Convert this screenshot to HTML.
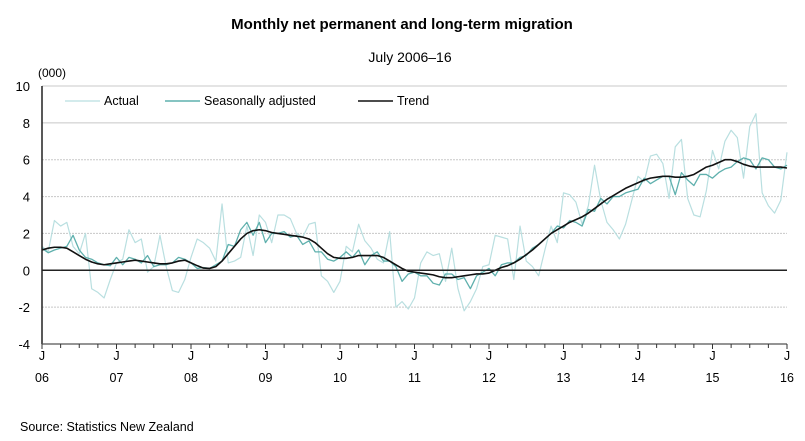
<!DOCTYPE html>
<html><head><meta charset="utf-8"><style>
body{margin:0;background:#fff;}
svg{display:block;font-family:"Liberation Sans",Arial,sans-serif;}
</style></head><body>
<svg id="chart" width="805" height="441" viewBox="0 0 805 441">
<text x="402" y="29" text-anchor="middle" font-size="15" font-weight="bold">Monthly net permanent and long-term migration</text>
<text x="410" y="62" text-anchor="middle" font-size="14">July 2006–16</text>
<text x="38" y="77" font-size="12">(000)</text>
<g id="grid"></g><g id="series"></g><g id="axes"></g>
<g>
<line x1="65" y1="101" x2="100" y2="101" stroke="#b9dfe0" stroke-width="1.2"/>
<text x="104" y="105" font-size="12.5">Actual</text>
<line x1="165" y1="101" x2="200" y2="101" stroke="#5fb0ad" stroke-width="1.4"/>
<text x="204" y="105" font-size="12.5">Seasonally adjusted</text>
<line x1="358" y1="101" x2="393" y2="101" stroke="#111" stroke-width="1.6"/>
<text x="397" y="105" font-size="12.5">Trend</text>
</g>
<text x="20" y="431" font-size="12.5">Source: Statistics New Zealand</text>
</svg>
<script>
const yTicks=[10,8,6,4,2,0,-2,-4];
const yearLabels=['06','07','08','09','10','11','12','13','14','15','16'];
const actual=[1.3,1.0,2.7,2.4,2.6,1.3,0.9,2.0,-1.0,-1.2,-1.5,-0.5,0.4,0.6,2.2,1.5,1.7,-0.1,0.2,1.9,0.2,-1.1,-1.2,-0.5,0.7,1.7,1.5,1.2,0.5,3.6,0.4,0.5,0.7,2.4,0.8,3.0,2.6,1.5,3.0,3.0,2.8,2.0,1.8,2.5,2.6,-0.3,-0.6,-1.2,-0.6,1.3,1.0,2.5,1.6,1.2,0.6,0.4,2.1,-2.0,-1.7,-2.1,-1.5,0.4,1.0,0.8,0.9,-0.6,1.2,-1.0,-2.2,-1.7,-1.0,0.2,0.3,1.9,1.8,1.7,-0.5,2.4,0.5,0.2,-0.3,1.1,2.4,1.5,4.2,4.1,3.7,2.5,3.5,5.7,3.8,2.6,2.2,1.7,2.5,3.8,5.1,4.8,6.2,6.3,5.8,3.9,6.7,7.1,3.9,3.0,2.9,4.3,6.5,5.5,7.0,7.6,7.2,5.0,7.8,8.5,4.2,3.5,3.1,3.8,6.4];
const seasAdj=[1.2,0.95,1.1,1.2,1.3,1.9,1.1,0.7,0.6,0.4,0.3,0.25,0.7,0.3,0.7,0.6,0.4,0.8,0.2,0.3,0.3,0.4,0.7,0.6,0.4,0.1,0.15,0.1,0.3,0.5,1.4,1.3,2.2,2.6,1.9,2.6,1.5,2.0,2.0,2.1,1.8,1.9,1.4,1.6,1.0,1.0,0.6,0.5,0.7,1.0,0.7,1.1,0.3,0.8,1.0,0.5,0.5,0.2,-0.6,-0.2,-0.1,-0.3,-0.3,-0.7,-0.8,-0.2,-0.2,-0.5,-0.4,-1.0,-0.3,-0.1,0.1,-0.3,0.3,0.4,0.4,0.7,0.8,1.2,1.4,1.7,2.0,2.4,2.3,2.7,2.6,2.4,3.3,3.2,3.9,3.6,4.0,4.0,4.2,4.3,4.4,5.0,4.7,4.9,5.1,5.1,4.1,5.3,4.9,4.6,5.2,5.2,5.0,5.3,5.5,5.6,5.9,6.1,6.0,5.5,6.1,6.0,5.6,5.5,5.7];
const trend=[1.1,1.2,1.25,1.25,1.2,1.0,0.8,0.6,0.45,0.35,0.3,0.35,0.4,0.45,0.5,0.55,0.5,0.45,0.4,0.35,0.35,0.4,0.5,0.55,0.4,0.25,0.12,0.1,0.2,0.5,0.9,1.3,1.7,2.0,2.15,2.2,2.15,2.05,2.0,1.95,1.9,1.85,1.8,1.7,1.5,1.2,0.9,0.7,0.65,0.65,0.7,0.8,0.8,0.8,0.8,0.7,0.5,0.3,0.1,-0.05,-0.1,-0.15,-0.2,-0.25,-0.35,-0.4,-0.4,-0.35,-0.3,-0.25,-0.2,-0.2,-0.15,0,0.15,0.25,0.4,0.6,0.85,1.1,1.4,1.7,2.0,2.2,2.4,2.6,2.75,2.9,3.1,3.35,3.6,3.85,4.05,4.25,4.45,4.6,4.75,4.9,5.0,5.05,5.1,5.1,5.05,5.05,5.1,5.2,5.4,5.6,5.7,5.85,6.0,6.0,5.9,5.75,5.65,5.6,5.6,5.6,5.6,5.6,5.55];
const X0=42,X1=787,Y0=344,Y1=86,NM=120;
const x=i=>X0+(X1-X0)*i/NM;
const y=v=>Y0-(Y0-Y1)*(v-(-4))/14;
const NS='http://www.w3.org/2000/svg';
function mk(t,a,p){const e=document.createElementNS(NS,t);for(const k in a)e.setAttribute(k,a[k]);p.appendChild(e);return e;}
const grid=document.getElementById('grid'),axes=document.getElementById('axes'),ser=document.getElementById('series');
yTicks.forEach(v=>{
 if(v!==0&&v!==-4){const l=mk('line',{x1:X0,x2:X1,y1:y(v),y2:y(v),stroke:'#c8c8c8','stroke-width':1,'stroke-dasharray':v==10||v==8?'none':'2,1'},grid);
 
 }
 const t=mk('text',{x:30,y:y(v)+5,'text-anchor':'end','font-size':13},axes);t.textContent=v;
 
 
});
function line(d,c,w,name){const p=mk('polyline',{points:d.slice(0,NM+1).map((v,i)=>x(i)+','+y(v)).join(' '),fill:'none',stroke:c,'stroke-width':w,'stroke-linejoin':'round'},ser);
 
 }
line(actual,'#b9dfe0',1.2,'actual-line');
line(seasAdj,'#5fb0ad',1.3,'seasonally-adjusted-line');
line(trend,'#111',1.6,'trend-line');
const zl=mk('line',{x1:X0,x2:X1,y1:y(0),y2:y(0),stroke:'#222','stroke-width':1.5},axes);


const ya=mk('line',{x1:X0,x2:X0,y1:Y1,y2:Y0,stroke:'#222','stroke-width':1.5},axes);


const xa=mk('line',{x1:X0,x2:X1,y1:Y0,y2:Y0,stroke:'#555','stroke-width':1.2},axes);


for(let i=0;i<=NM;i+=3){const tk=mk('line',{x1:x(i),x2:x(i),y1:Y0,y2:Y0+(i%12==0?5:4),stroke:'#333','stroke-width':1},axes);
 
 }
yearLabels.forEach((lab,k)=>{const t1=mk('text',{x:x(k*12),y:360,'text-anchor':'middle','font-size':12.5},axes);t1.textContent='J';
 
 
 const t2=mk('text',{x:x(k*12),y:382,'text-anchor':'middle','font-size':12.5},axes);t2.textContent=lab;
 
 });
</script>
</body></html>
